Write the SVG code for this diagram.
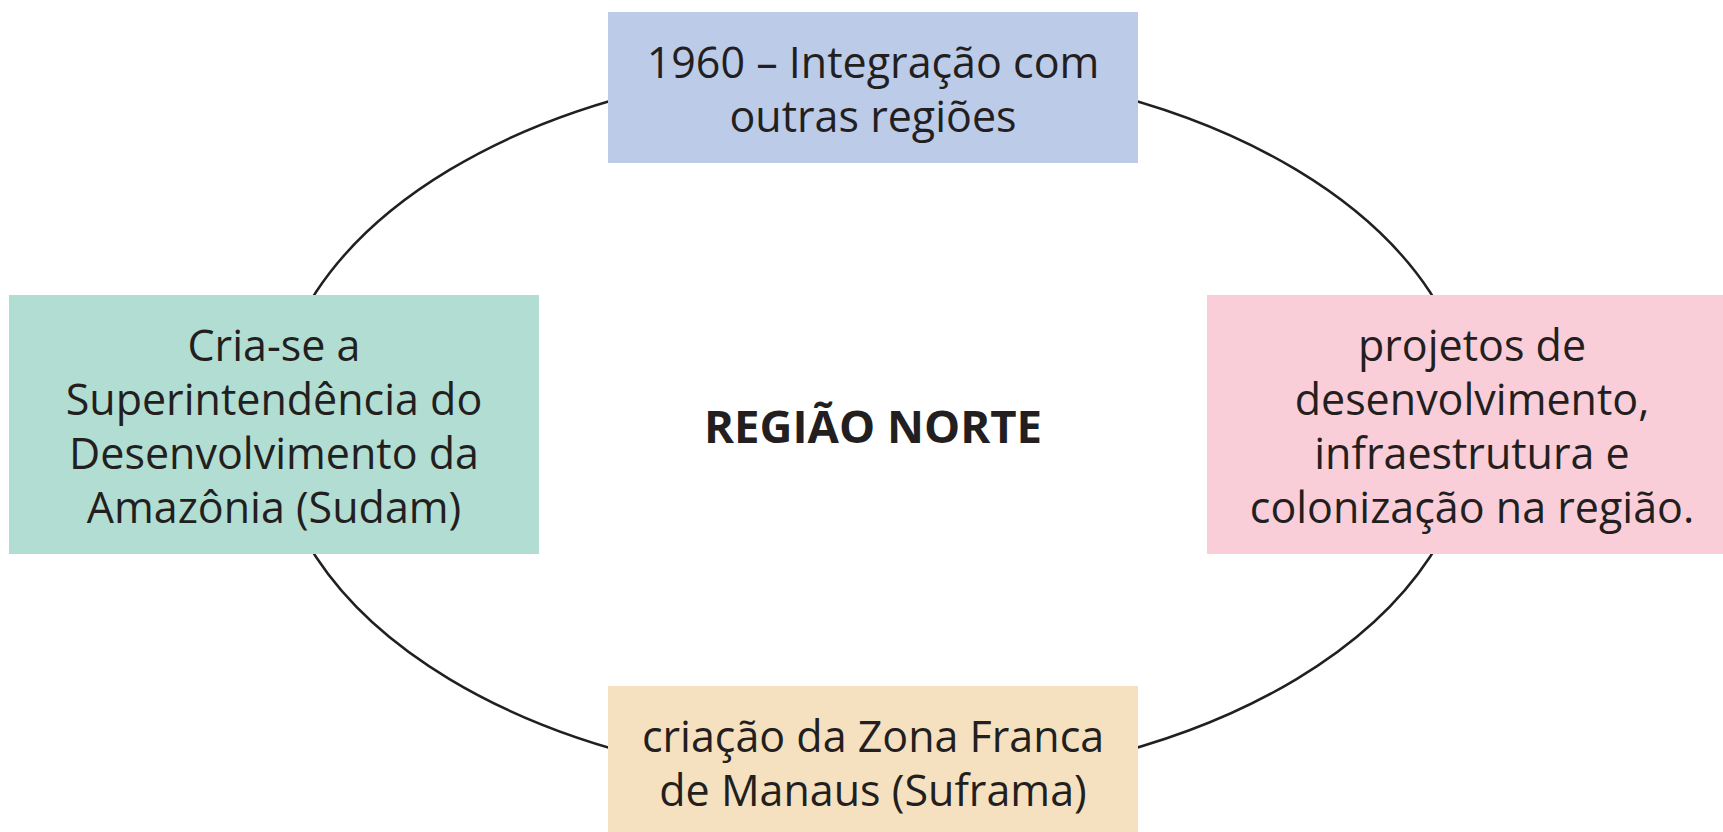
<svg xmlns="http://www.w3.org/2000/svg" width="1723" height="832" viewBox="0 0 1723 832">
<style>
.t{font-family:"Open Sans","Noto Sans","Liberation Sans",sans-serif;font-size:43px;fill:#231f20;text-anchor:middle}
.b{font-weight:bold;font-size:45.5px}
.c{fill:none;stroke:#231f20;stroke-width:2.5}
</style>
<rect width="1723" height="832" fill="#ffffff"/>
<g id="connectors">
<ellipse class="c" cx="873" cy="424.5" rx="599" ry="360"/>
</g>
<g id="center">
<text class="t b" x="873" y="443">REGIÃO NORTE</text>
</g>
<g id="top">
<rect x="608" y="12" width="530" height="151" fill="#bccbe8"/>
<text class="t" x="873" y="78">1960 – Integração com</text>
<text class="t" x="873" y="132">outras regiões</text>
</g>
<g id="left">
<rect x="9" y="295" width="530" height="259" fill="#b2ddd2"/>
<text class="t" x="274" y="361">Cria-se a</text>
<text class="t" x="274" y="415">Superintendência do</text>
<text class="t" x="274" y="469">Desenvolvimento da</text>
<text class="t" x="274" y="523">Amazônia (Sudam)</text>
</g>
<g id="right">
<rect x="1207" y="295" width="520" height="259" fill="#f9ced8"/>
<text class="t" x="1472" y="361">projetos de</text>
<text class="t" x="1472" y="415">desenvolvimento,</text>
<text class="t" x="1472" y="469">infraestrutura e</text>
<text class="t" x="1472" y="523">colonização na região.</text>
</g>
<g id="bottom">
<rect x="608" y="686" width="530" height="150" fill="#f5e1bf"/>
<text class="t" x="873" y="752">criação da Zona Franca</text>
<text class="t" x="873" y="806">de Manaus (Suframa)</text>
</g>
</svg>
